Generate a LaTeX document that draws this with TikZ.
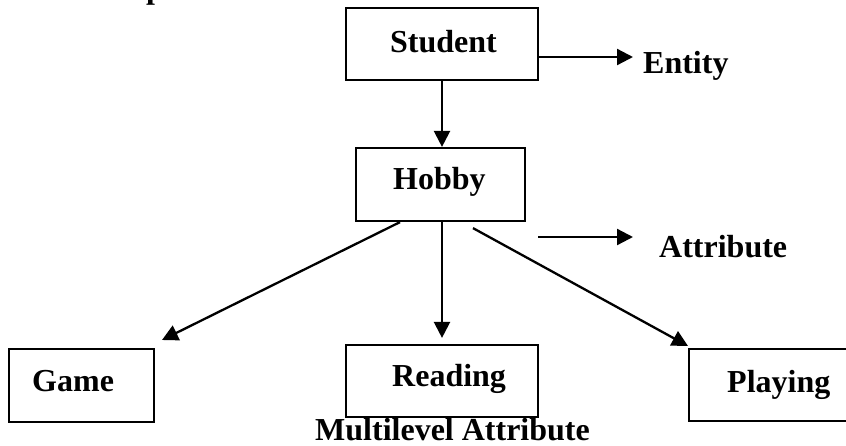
\documentclass[tikz,border=0pt]{standalone}
\usepackage{fontspec}
\setmainfont{Liberation Serif}
\usetikzlibrary{arrows.meta,calc}
\begin{document}
\begin{tikzpicture}[x=1pt,y=-1pt,
  box/.style={draw=black,line width=2.2pt,rectangle,inner sep=0pt},
  lbl/.style={font=\fontsize{32}{38}\selectfont\bfseries,inner sep=0pt,anchor=base west},
  conn/.style={line width=2.3pt,-{Triangle[length=16pt,width=16pt]}},
]
\useasboundingbox (0,0) rectangle (846,445);

% boxes
\node[box,minimum width=192pt,minimum height=72pt] (student) at (442,44) {};
\node[box,minimum width=169pt,minimum height=73pt] (hobby) at (440.5,184.5) {};
\node[box,minimum width=145pt,minimum height=73pt] (game) at (81.5,385.5) {};
\node[box,minimum width=192pt,minimum height=72pt] (reading) at (442,381) {};
\node[box,minimum width=171pt,minimum height=72pt] (playing) at (774.5,385) {};

% texts
\node[lbl] (example) at (66,-1.5) {Example:};
\node[lbl] (studenttxt) at (390,52) {Student};
\node[lbl] (entity) at (643,73) {Entity};
\node[lbl] (hobbytxt) at (393,189) {Hobby};
\node[lbl] (attribute) at (659,257) {Attribute};
\node[lbl] (gametxt) at (32,391) {Game};
\node[lbl] (readingtxt) at (392,386) {Reading};
\node[lbl] (playingtxt) at (727,392) {Playing};
\node[lbl] (multi) at (315,440) {Multilevel Attribute};

% free ends
\coordinate (entitytip) at (633,57);
\coordinate (attrstart) at (538,237);
\coordinate (attrtip) at (633,237);
\coordinate (gametip) at (162,340);
\coordinate (playtip) at (688,346);

% connectors
\draw[conn] (student.south) -- (student.south |- hobby.north);
\draw[conn] ($(student.east)+(0,13)$) -- (entitytip);
\draw[conn] (attrstart) -- (attrtip);
\draw[conn] ($(hobby.south)+(-40.5,0)$) -- (gametip);
\draw[conn] (reading.north |- hobby.south) -- ($(reading.north)+(0,-6)$);
\draw[conn] ($(hobby.south)+(32.5,6)$) -- (playtip);
\end{tikzpicture}
\end{document}
